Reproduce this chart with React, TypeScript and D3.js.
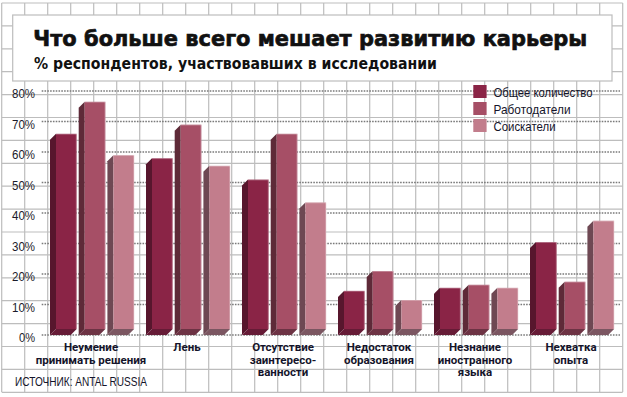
import React from "react";
import * as d3 from "d3";

const categories = [
  "Неумение принимать решения",
  "Лень",
  "Отсутствие заинтересованности",
  "Недостаток образования",
  "Незнание иностранного языка",
  "Нехватка опыта",
];
const categoryLines = [
  ["Неумение", "принимать решения"],
  ["Лень"],
  ["Отсутствие", "заинтересо-", "ванности"],
  ["Недостаток", "образования"],
  ["Незнание", "иностранного", "языка"],
  ["Нехватка", "опыта"],
];
const seriesNames = ["Общее количество", "Работодатели", "Соискатели"];
const legendWidths = [99, 77, 62];
const totalValues = [64, 56, 49, 12.5, 13.5, 28.5];
const employerValues = [74.5, 67, 64, 19, 14.5, 15.5];
const seekerValues = [57, 53.5, 41.5, 9.5, 13.5, 35.5];
const yTicks = [0, 10, 20, 30, 40, 50, 60, 70, 80];

const title = "Что больше всего мешает развитию карьеры";
const subtitle = "% респондентов, участвовавших в исследовании";
const source = "ИСТОЧНИК: ANTAL RUSSIA";

const W = 627;
const H = 397;
const frontColors = ["#8a2446", "#a64f66", "#c27d8c"];
const sideColors = ["#57162d", "#5e2a38", "#6e4853"];
const bottomColors = ["#661b36", "#6d3344", "#7b5661"];

export default function App() {
  const series = [totalValues, employerValues, seekerValues];
  const y = d3.scaleLinear().domain([0, 80]).range([335, 91]);
  const x0 = d3.scaleBand<string>().domain(categories).range([44, 620]).padding(0);
  const x1 = d3
    .scaleBand<string>()
    .domain(seriesNames)
    .range([12, 90.1])
    .paddingInner(0.279)
    .paddingOuter(0);
  const d = 6;
  const w = x1.bandwidth();
  const base = y(0);

  const gridXs = d3.range(1.7, 624, 23);
  const gridYs = d3.range(3, 394, 22.9);

  const narrow = "'Liberation Sans Narrow', 'Arial Narrow', 'Liberation Sans', sans-serif";

  return (
    <svg
      width={W}
      height={H}
      style={{ position: "absolute", left: 0, top: 0, background: "#fff" }}
    >
      <rect x={0} y={0} width={W} height={H} fill="#fff" />
      {gridXs.map((gx, i) => (
        <line key={"gx" + i} x1={gx} x2={gx} y1={3} y2={392} stroke="#bdbdbd" strokeWidth={1.2} />
      ))}
      {gridYs.map((gy, i) => (
        <line key={"gy" + i} x1={1.7} x2={622.7} y1={gy} y2={gy} stroke="#bdbdbd" strokeWidth={1.2} />
      ))}
      <rect x={12.7} y={15} width={599.3} height={66} fill="#fff" stroke="#bdbdbd" strokeWidth={1.2} />
      <text
        x={33.3}
        y={45.5}
        fontFamily="'DejaVu Sans', sans-serif"
        fontWeight={900}
        fontSize={22}
        fill="#111"
        stroke="#111"
        strokeWidth={0.7}
        textLength={554}
        lengthAdjust="spacingAndGlyphs"
      >
        {title}
      </text>
      <text
        x={34}
        y={68.5}
        fontFamily="'DejaVu Sans', sans-serif"
        fontWeight={700}
        fontSize={16}
        fill="#111"
        textLength={403}
        lengthAdjust="spacingAndGlyphs"
      >
        {subtitle}
      </text>

      {yTicks.map((t) => (
        <g key={"t" + t}>
          <line
            x1={41.7}
            x2={620}
            y1={y(t)}
            y2={y(t)}
            stroke="#7a7a7a"
            strokeWidth={1.4}
            strokeDasharray="1.6,1.2"
          />
          <text
            x={35}
            y={y(t) + 7}
            textAnchor="end"
            fontFamily={narrow}
            fontSize={13.5}
            fill="#1a1a2a"
            textLength={t === 0 ? 16 : 23}
            lengthAdjust="spacingAndGlyphs"
          >
            {t + "%"}
          </text>
        </g>
      ))}

      {categories.map((c, ci) => (
        <g key={c}>
          {seriesNames.map((s, si) => {
            const v = series[si][ci];
            const X = (x0(c) as number) + (x1(s) as number);
            const topNear = y(v);
            const top = topNear - d;
            const fb = base - d;
            const side = `${X - d},${topNear} ${X},${top} ${X},${fb} ${X - d},${base}`;
            const bottom = `${X},${fb} ${X + w},${fb} ${X + w - d},${base} ${X - d},${base}`;
            return (
              <g key={s}>
                <polygon points={side} fill={sideColors[si]} />
                <polygon points={bottom} fill={bottomColors[si]} />
                <rect x={X} y={top} width={w} height={fb - top} fill={frontColors[si]} />
                <line x1={X} x2={X + w} y1={top + 0.4} y2={top + 0.4} stroke="#ffffff" strokeOpacity={0.35} strokeWidth={0.8} />
                <line x1={X + w - 0.4} x2={X + w - 0.4} y1={top} y2={fb} stroke="#ffffff" strokeOpacity={0.35} strokeWidth={0.8} />
              </g>
            );
          })}
        </g>
      ))}

      {categories.map((c, ci) => {
        const cx = (x0(c) as number) + x0.bandwidth() / 2 - 1;
        return (
          <text
            key={"l" + c}
            textAnchor="middle"
            fontFamily="Roboto, 'DejaVu Sans', sans-serif"
            fontWeight={700}
            fontSize={11.5}
            fill="#14142a"
          >
            {categoryLines[ci].map((ln, li) => (
              <tspan key={li} x={cx} y={351 + li * 12.5}>
                {ln}
              </tspan>
            ))}
          </text>
        );
      })}

      {seriesNames.map((s, si) => (
        <g key={"lg" + s}>
          <rect x={473.3} y={85 + si * 17} width={13.3} height={13} fill={frontColors[si]} />
          <text
            x={493.5}
            y={96.5 + si * 17}
            fontFamily={narrow}
            fontSize={13.5}
            fill="#14142a"
            textLength={legendWidths[si]}
            lengthAdjust="spacingAndGlyphs"
          >
            {s}
          </text>
        </g>
      ))}

      <text
        x={15}
        y={386}
        fontFamily={narrow}
        fontSize={13}
        fill="#14142a"
        textLength={132}
        lengthAdjust="spacingAndGlyphs"
      >
        {source}
      </text>
    </svg>
  );
}
